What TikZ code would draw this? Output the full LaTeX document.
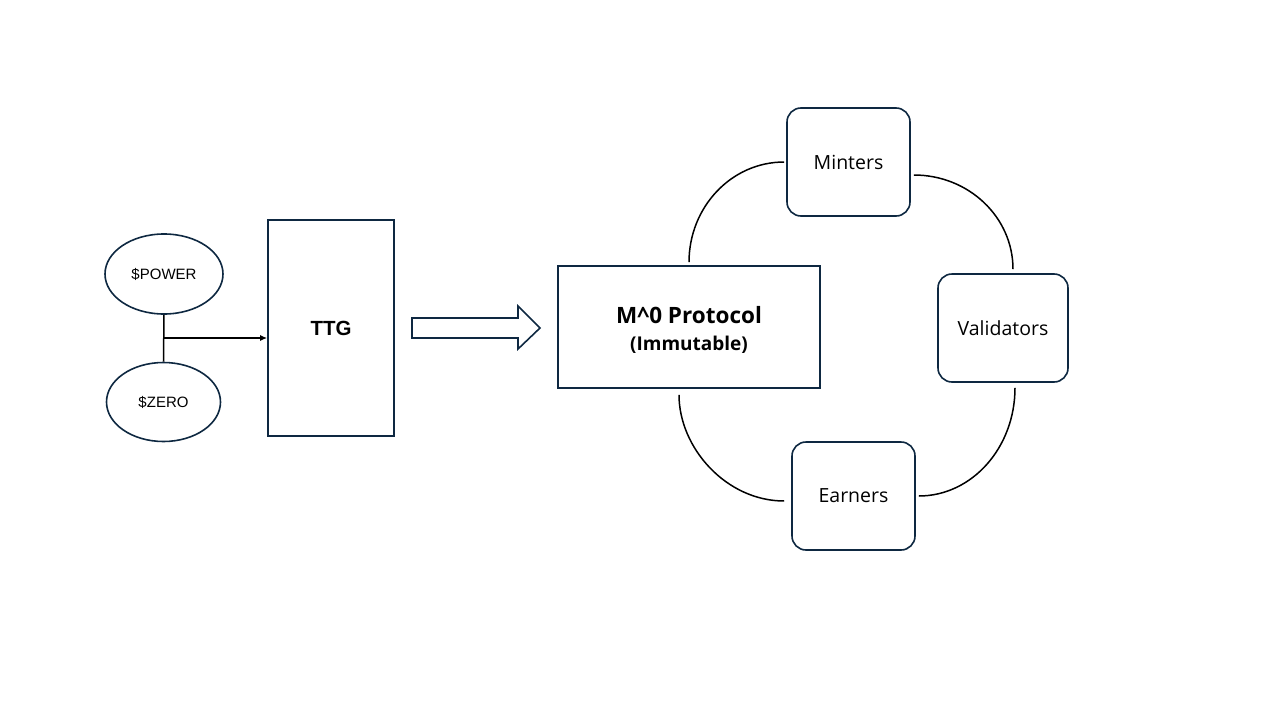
\documentclass[tikz,border=0pt]{standalone}
\usepackage{fontspec}
\setmainfont{Open Sans}
\newfontfamily\arialfont{Liberation Sans}
\usetikzlibrary{arrows.meta,calc,shapes.geometric}
\definecolor{navy}{HTML}{0E2841}
\begin{document}
\begin{tikzpicture}[x=1pt,y=-1pt,
  oval/.style={draw=navy,line width=1.6pt,ellipse,inner sep=0pt,font=\arialfont\fontsize{15}{17}\selectfont},
  sqbox/.style={draw=navy,line width=1.6pt,inner sep=0pt},
  rbox/.style={draw=navy,line width=1.6pt,rounded corners=14pt,inner sep=0pt,minimum width=123pt,minimum height=108pt,font=\fontsize{19.5}{23}\selectfont},
  link/.style={draw=black,line width=1.5pt}]
\useasboundingbox (0,0) rectangle (1280,720);
\node[oval,minimum width=118pt,minimum height=80pt] (pow) at (164,274) {\$POWER};
\node[oval,minimum width=114pt,minimum height=79pt] (zero) at (163.5,402) {\$ZERO};
\node[sqbox,minimum width=126pt,minimum height=216pt,font=\arialfont\bfseries\fontsize{20.5}{24}\selectfont] (ttg) at (331,328) {TTG};
\node[sqbox,minimum width=262pt,minimum height=122pt,
  label={[align=center,font=\bfseries\fontsize{19}{27}\selectfont,yshift=-2.5pt]center:{{\fontsize{22.5}{27}\selectfont M\textasciicircum0 Protocol}\\(Immutable)}}] (proto) at (689,327) {};
\node[rbox] (min) at (848.5,162) {Minters};
\node[rbox,minimum width=130pt] (val) at (1003,328) {Validators};
\node[rbox] (earn) at (853.5,496) {Earners};
% T-junction
\coordinate (j) at (163.5,338);
\draw[link] (pow.south) -- (zero.north);
\draw[link,-{Latex[length=7pt,width=6pt]}] (j) -- (ttg.west |- j);
% block arrow
\draw[navy,line width=1.6pt,fill=white,line join=miter]
  (412,318) -- (518,318) -- (518,306) -- (540,328) -- (518,349) -- (518,338) -- (412,338) -- cycle;
% ring
\draw[link] ([yshift=3pt]proto.north) .. controls +(0,-55) and +(-53,0) .. ([xshift=-2pt]min.west);
\draw[link] ([xshift=3pt,yshift=-13pt]min.east) .. controls +(55,0) and +(0,-52) .. ([xshift=10pt,yshift=4pt]val.north);
\draw[link] ([xshift=12pt,yshift=-5pt]val.south) .. controls +(0,60) and +(53,0) .. ([xshift=3pt]earn.east);
\draw[link] ([xshift=-7pt,yshift=-5pt]earn.west) .. controls +(-58,0) and +(0,53) .. ([xshift=-10pt,yshift=-6pt]proto.south);
\end{tikzpicture}
\end{document}
